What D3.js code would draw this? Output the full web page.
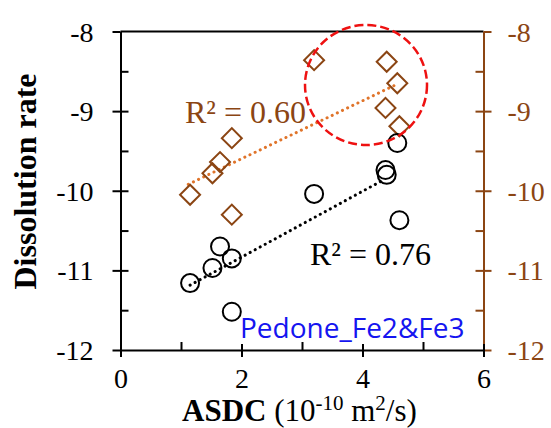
<!DOCTYPE html>
<html>
<head>
<meta charset="utf-8">
<script src="https://cdn.jsdelivr.net/npm/d3@7"></script>
<style>
  html, body { margin: 0; padding: 0; background: #fff; }
  svg { display: block; }
</style>
</head>
<body>
<svg id="chart" width="551" height="428"></svg>
<script>
// ASDC (10^-10 m2/s) for each sample
const asdcDiamond = [3.20, 4.40, 4.575, 4.38, 4.61, 1.84, 1.645, 1.52, 1.15, 1.84];
const rateDiamond = [-8.36, -8.38, -8.65, -8.96, -9.19, -9.34, -9.64, -9.78, -10.05, -10.30];
const asdcCircle = [4.575, 4.38, 4.40, 3.20, 4.61, 1.645, 1.84, 1.52, 1.15, 1.84];
const rateCircle = [-9.40, -9.74, -9.80, -10.04, -10.37, -10.70, -10.85, -10.97, -11.16, -11.52];

// extent of each fitted trend line along x
const fitRangeDiamond = [1.12, 4.54];
const fitRangeCircle = [1.15, 4.32];

// centre of the highlighted group (data units)
const highlightCentre = [4.058, -8.672];

const xTicks = [0, 2, 4, 6];
const xMinorTicks = [1, 3, 5];
const yTicks = [-12, -11, -10, -9, -8];
const yMinorTicks = [-11.5, -10.5, -9.5, -8.5];

const r2Labels = ["R\u00B2 = 0.60", "R\u00B2 = 0.76"];
const noteLabel = "Pedone_Fe2&Fe3";

const BROWN = "#8b4513";
const ORANGE = "#e0742a";

const svg = d3.select("#chart");
const x = d3.scaleLinear().domain([0, 6]).range([120.5, 483.5]);
const y = d3.scaleLinear().domain([-12, -8]).range([350, 31.5]);

const serif = "'Liberation Serif', 'Times New Roman', serif";
const fmt = d => String(d);  // plain hyphen-minus

// least squares fit
function fit(xs, ys) {
  const n = xs.length;
  const mx = d3.mean(xs), my = d3.mean(ys);
  let sxy = 0, sxx = 0;
  for (let i = 0; i < n; i++) { sxy += (xs[i] - mx) * (ys[i] - my); sxx += (xs[i] - mx) ** 2; }
  const b = sxy / sxx;
  return v => my + b * (v - mx);
}

// frame: top line
svg.append("line")
  .attr("x1", x(0)).attr("x2", x(6)).attr("y1", y(-8)).attr("y2", y(-8))
  .attr("stroke", "#000").attr("stroke-width", 2);

function styleAxis(g, color, size) {
  g.select(".domain").attr("stroke", color).attr("stroke-width", 2);
  g.selectAll(".tick line").attr("stroke", color).attr("stroke-width", 2);
  g.selectAll(".tick text").attr("fill", color)
    .style("font-family", serif).style("font-size", size + "px");
}
const isEnd = d => d === -12 || d === -8;

// left axis
const gl = svg.append("g").attr("transform", `translate(${x(0)},0)`)
  .call(d3.axisLeft(y).tickValues(yTicks).tickSize(8).tickPadding(19).tickSizeOuter(0).tickFormat(fmt));
styleAxis(gl, "#000", 28);
gl.selectAll(".tick line").attr("x1", d => isEnd(d) ? 0 : 8);
gl.selectAll(".tick text").attr("dy", "0.34em");
svg.append("g").attr("transform", `translate(${x(0)},0)`)
  .call(d3.axisRight(y).tickValues(yMinorTicks).tickSize(8).tickFormat(""))
  .call(g => { g.select(".domain").remove(); g.selectAll("line").attr("stroke", "#000").attr("stroke-width", 2); });

// right axis
const gr = svg.append("g").attr("transform", `translate(${x(6)},0)`)
  .call(d3.axisRight(y).tickValues(yTicks).tickSize(8).tickPadding(16).tickSizeOuter(0).tickFormat(fmt));
styleAxis(gr, BROWN, 28);
gr.selectAll(".tick line").attr("x1", d => isEnd(d) ? 0 : -8);
gr.selectAll(".tick text").attr("dy", "0.34em");
svg.append("g").attr("transform", `translate(${x(6)},0)`)
  .call(d3.axisLeft(y).tickValues(yMinorTicks).tickSize(8).tickFormat(""))
  .call(g => { g.select(".domain").remove(); g.selectAll("line").attr("stroke", BROWN).attr("stroke-width", 2); });

// bottom axis
const gb = svg.append("g").attr("transform", `translate(0,${y(-12)})`)
  .call(d3.axisBottom(x).tickValues(xTicks).tickSize(7).tickPadding(11).tickSizeOuter(0).tickFormat(fmt));
styleAxis(gb, "#000", 28);
gb.selectAll(".tick line").attr("y1", -6);
svg.append("g").attr("transform", `translate(0,${y(-12)})`)
  .call(d3.axisTop(x).tickValues(xMinorTicks).tickSize(8).tickFormat(""))
  .call(g => { g.select(".domain").remove(); g.selectAll("line").attr("stroke", "#000").attr("stroke-width", 2); });

// axis titles
const xt = svg.append("text").attr("x", 182).attr("y", 421)
  .style("font-family", serif).style("font-size", "31px").attr("fill", "#000");
xt.append("tspan").attr("font-weight", "bold").text("ASDC");
xt.append("tspan").text(" (10");
xt.append("tspan").attr("dy", -11).style("font-size", "21px").text("-10");
xt.append("tspan").attr("dy", 11).text(" m");
xt.append("tspan").attr("dy", -11).style("font-size", "21px").text("2");
xt.append("tspan").attr("dy", 11).text("/s)");

svg.append("text")
  .attr("transform", `translate(36,${(73 + 290) / 2}) rotate(-90)`)
  .attr("text-anchor", "middle")
  .style("font-family", serif).style("font-size", "32px").attr("font-weight", "bold")
  .text("Dissolution rate");

// trend lines
const fD = fit(asdcDiamond, rateDiamond);
const fC = fit(asdcCircle, rateCircle);
svg.append("line")
  .attr("x1", x(fitRangeDiamond[0])).attr("y1", y(fD(fitRangeDiamond[0])))
  .attr("x2", x(fitRangeDiamond[1])).attr("y2", y(fD(fitRangeDiamond[1])))
  .attr("stroke", ORANGE).attr("stroke-width", 3).attr("stroke-linecap", "round")
  .attr("stroke-dasharray", "0.1,5.6");
svg.append("line")
  .attr("x1", x(fitRangeCircle[0])).attr("y1", y(fC(fitRangeCircle[0])))
  .attr("x2", x(fitRangeCircle[1])).attr("y2", y(fC(fitRangeCircle[1])))
  .attr("stroke", "#000").attr("stroke-width", 3).attr("stroke-linecap", "round")
  .attr("stroke-dasharray", "0.1,5.6");

// markers
const diamonds = d3.range(asdcDiamond.length);
svg.append("g").selectAll("path").data(diamonds).join("path")
  .attr("d", d3.symbol(d3.symbolSquare, 200))
  .attr("transform", i => `translate(${x(asdcDiamond[i])},${y(rateDiamond[i])}) rotate(45)`)
  .attr("fill", "none").attr("stroke", BROWN).attr("stroke-width", 2);

const circles = d3.range(asdcCircle.length);
svg.append("g").selectAll("circle").data(circles).join("circle")
  .attr("cx", i => x(asdcCircle[i])).attr("cy", i => y(rateCircle[i])).attr("r", 9)
  .attr("fill", "none").attr("stroke", "#000").attr("stroke-width", 2);

// highlight around the upper diamonds
svg.append("ellipse")
  .attr("cx", x(highlightCentre[0])).attr("cy", y(highlightCentre[1])).attr("rx", 61).attr("ry", 60)
  .attr("fill", "none").attr("stroke", "#ee1111").attr("stroke-width", 2.5)
  .attr("stroke-dasharray", "9,4");

// labels
svg.append("text").attr("x", 185).attr("y", 123)
  .style("font-family", serif).style("font-size", "32px").attr("fill", BROWN)
  .text(r2Labels[0]);
svg.append("text").attr("x", 310).attr("y", 265)
  .style("font-family", serif).style("font-size", "32px").attr("fill", "#000")
  .text(r2Labels[1]);
svg.append("text").attr("x", 240).attr("y", 338)
  .style("font-family", "'Open Sans', sans-serif").style("font-size", "28px").attr("fill", "#1515f0")
  .text(noteLabel);
</script>
</body>
</html>
